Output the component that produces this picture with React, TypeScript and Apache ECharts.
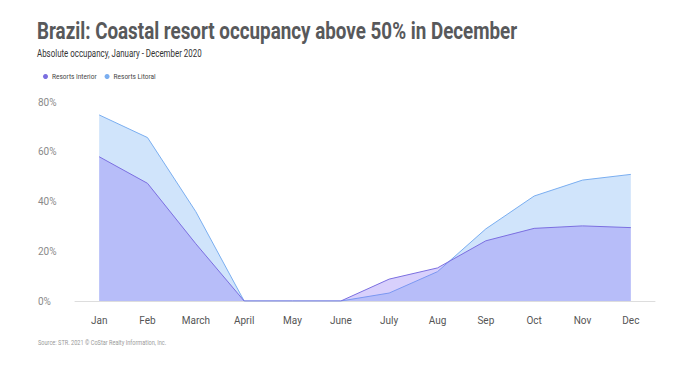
import React, { useEffect, useRef } from "react";
import * as echarts from "echarts";

const months = ["Jan", "Feb", "March", "April", "May", "June", "July", "Aug", "Sep", "Oct", "Nov", "Dec"];
const interior = [58, 47.3, 23, 0, 0, 0, 8.8, 13.3, 24.2, 29.2, 30.2, 29.5];
const litoral = [74.8, 65.7, 35.9, 0, 0, 0, 3.2, 11.8, 29, 42.2, 48.6, 50.9];
const yTicks = [0, 20, 40, 60, 80];

const titleText = "Brazil: Coastal resort occupancy above 50% in December";
const subtitleText = "Absolute occupancy, January - December 2020";
const sourceText = "Source: STR. 2021 © CoStar Realty Information, Inc.";

export default function App() {
  const ref = useRef<HTMLDivElement>(null);
  useEffect(() => {
    if (!ref.current) return;
    const chart = echarts.init(ref.current, null, { renderer: "svg" });
    chart.setOption({
      animation: false,
      backgroundColor: "#ffffff",
      textStyle: { fontFamily: "Roboto" },
      graphic: [
        {
          type: "text",
          x: 37,
          y: 20,
          scaleX: 0.818,
          style: { text: titleText, fontFamily: "Roboto", fontWeight: "bold", fontSize: 23, fill: "#58595b" },
        },
        {
          type: "text",
          x: 37,
          y: 47,
          scaleX: 0.72,
          style: { text: subtitleText, fontFamily: "Roboto", fontSize: 11, fill: "#333333" },
        },
        {
          type: "text",
          x: 38,
          y: 339,
          scaleX: 0.8,
          style: { text: sourceText, fontFamily: "Roboto", fontSize: 7, fill: "#9a9a9a" },
        },
      ],
      legend: {
        data: ["Resorts Interior", "Resorts Litoral"],
        left: 38,
        top: 68,
        icon: "circle",
        itemWidth: 5,
        itemHeight: 5,
        itemGap: 8,
        textStyle: { fontSize: 6.5, color: "#444444", padding: [0, 0, 0, -1] },
      },
      grid: { left: 75, right: 45, top: 102, bottom: 65 },
      xAxis: {
        type: "category",
        data: months,
        boundaryGap: true,
        axisLine: { show: true, lineStyle: { color: "#dddddd", width: 1 } },
        axisTick: { show: false },
        axisLabel: { color: "#555555", fontSize: 10, margin: 14 },
      },
      yAxis: {
        type: "value",
        min: yTicks[0],
        max: yTicks[yTicks.length - 1],
        interval: 20,
        splitLine: { show: false },
        axisLine: { show: false },
        axisTick: { show: false },
        axisLabel: { color: "#8a8a8a", fontSize: 10, align: "left", margin: 37, formatter: "{value}%" },
      },
      series: [
        {
          name: "Resorts Litoral",
          type: "line",
          data: litoral,
          symbol: "none",
          itemStyle: { color: "#7aaef0" },
          lineStyle: { color: "#7aaef0", width: 1 },
          areaStyle: { color: "#d0e4fb", opacity: 1 },
          z: 2,
        },
        {
          name: "Resorts Interior",
          type: "line",
          data: interior,
          symbol: "none",
          itemStyle: { color: "#7b6fe0" },
          lineStyle: { color: "#7b6fe0", width: 1 },
          areaStyle: { color: "rgba(125,100,245,0.3)", opacity: 1 },
          z: 3,
        },
      ],
    });
    return () => chart.dispose();
  }, []);
  return (
    <div
      ref={ref}
      style={{ position: "absolute", left: 0, top: 0, width: 700, height: 366 }}
    />
  );
}
